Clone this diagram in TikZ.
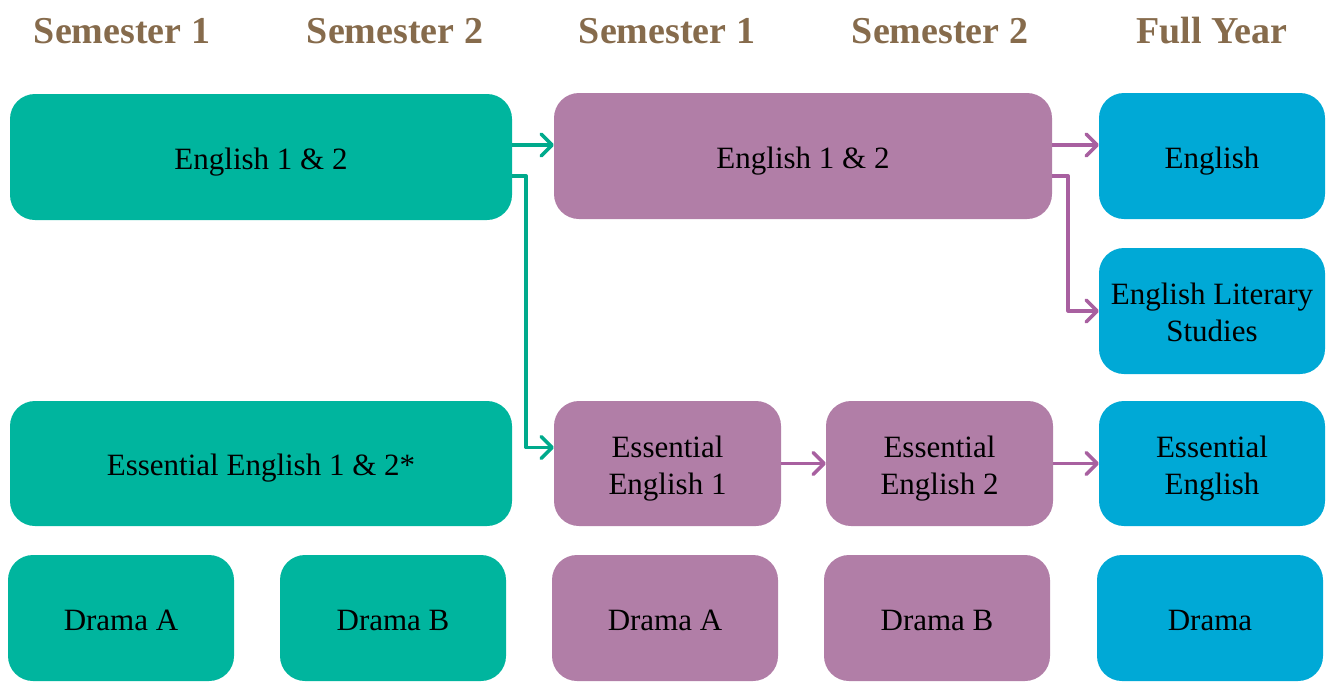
\documentclass[tikz,border=0pt]{standalone}
\usepackage{fontspec}
\setmainfont{Liberation Serif}
\usetikzlibrary{arrows.meta}
\definecolor{tealbox}{RGB}{0,181,158}
\definecolor{purplebox}{RGB}{177,126,167}
\definecolor{bluebox}{RGB}{0,169,214}
\definecolor{tealline}{RGB}{0,170,140}
\definecolor{purpleline}{RGB}{168,96,160}
\definecolor{headbrown}{RGB}{134,107,76}
\newcommand{\twolines}[2]{\begin{tabular}[b]{@{}c@{}}#1\\#2\end{tabular}}
\tikzset{
  box/.style={rectangle, rounded corners=25pt, inner sep=0pt,
    font=\fontsize{31}{37}\selectfont, text=black, text height=31pt, text depth=7pt},
  twoline/.style={text height=68pt, text depth=7pt},
  tbox/.style={box, fill=tealbox},
  pbox/.style={box, fill=purplebox},
  bbox/.style={box, fill=bluebox},
  narrow/.style={minimum width=226pt, minimum height=126pt},
  head/.style={anchor=base, text=headbrown, font=\fontsize{38}{44}\selectfont\bfseries},
  conn/.style={line width=3.5pt, line join=round,
    -{Straight Barb[length=11pt,width=22pt,line cap=round,line join=round]}},
  tconn/.style={conn, draw=tealline},
  pconn/.style={conn, draw=purpleline},
}
\begin{document}
\begin{tikzpicture}[x=1pt,y=-1pt]
\useasboundingbox (0,0) rectangle (1327,686);
% headers
\node[head] (h1) at (122,43) {Semester 1};
\node[head] (h2) at (395,43) {Semester 2};
\node[head] (h3) at (667,43) {Semester 1};
\node[head] (h4) at (940,43) {Semester 2};
\node[head] (h5) at (1212,43) {Full Year};
% teal
\node[tbox, minimum width=502pt, minimum height=126pt] (t1) at (261,157) {English 1 \& 2};
\node[tbox, minimum width=502pt, minimum height=125pt] (t2) at (261,463.5) {Essential English 1 \& 2*};
\node[tbox, narrow] (t3) at (121,618) {Drama A};
\node[tbox, narrow] (t4) at (393,618) {Drama B};
% purple
\node[pbox, minimum width=498pt, minimum height=126pt] (p1) at (803,156) {English 1 \& 2};
\node[pbox, twoline, minimum width=227pt, minimum height=125pt] (pe1) at (667.5,463.5) {\twolines{Essential}{English 1}};
\node[pbox, twoline, minimum width=227pt, minimum height=125pt] (pe2) at (939.5,463.5) {\twolines{Essential}{English 2}};
\node[pbox, narrow] (p3) at (665,618) {Drama A};
\node[pbox, narrow] (p4) at (937,618) {Drama B};
% blue
\node[bbox, narrow] (b1) at (1212,156) {English};
\node[bbox, twoline, narrow] (b2) at (1212,311) {\twolines{English Literary}{Studies}};
\node[bbox, twoline, minimum width=226pt, minimum height=125pt] (b3) at (1212,463.5) {\twolines{Essential}{English}};
\node[bbox, narrow] (b4) at (1210,618) {Drama};
% connectors
\draw[tconn] ([yshift=12pt]t1.east) -- ([yshift=12pt]t1.east -| p1.west);
\draw[tconn] ([yshift=-19pt]t1.east) -- ++(14pt,0) |- ([yshift=16pt]pe1.west);
\draw[pconn] ([yshift=11pt]p1.east) -- ([yshift=11pt]p1.east -| b1.west);
\draw[pconn] ([yshift=-20pt]p1.east) -- ++(16pt,0) |- (b2.west);
\draw[pconn] (pe1.east) -- (pe2.west);
\draw[pconn] (pe2.east) -- (b3.west);
\end{tikzpicture}
\end{document}
